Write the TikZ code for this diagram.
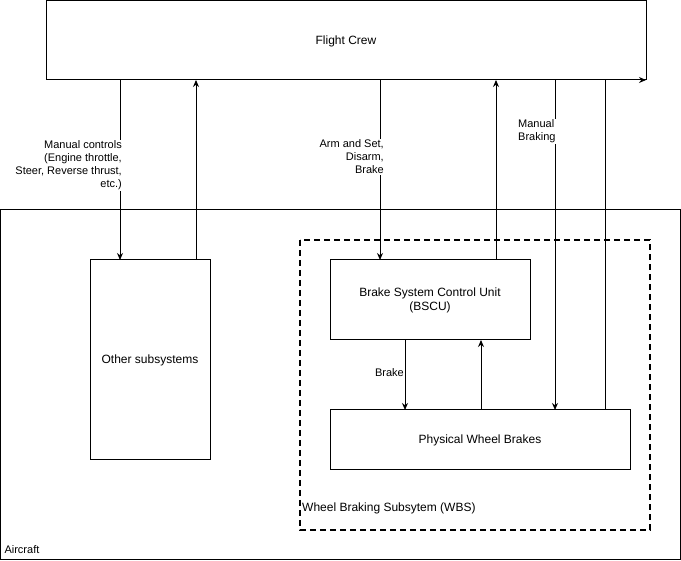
\documentclass[tikz,border=0pt]{standalone}
\usepackage{fontspec}
\setmainfont{Liberation Sans}
\usetikzlibrary{arrows.meta}
\begin{document}
\begin{tikzpicture}[x=1pt,y=-1pt,
  box/.style={draw,line width=1pt,inner sep=0pt},
  lbl/.style={font=\fontsize{12}{14}\selectfont,align=center},
  elbl/.style={font=\fontsize{11}{13}\selectfont,fill=white,inner sep=1pt},
  conn/.style={line width=1pt,-{Stealth[length=7pt,width=6pt]}},
  plain/.style={line width=1pt}]
\useasboundingbox (0,0) rectangle (681,561);
% boxes
\draw[box] (46,1) rectangle (646,80);
\node[lbl] (crew) at (346,41) {Flight Crew};
\draw[box] (0.5,210) rectangle (680,560);
\node[lbl,anchor=west] (aircraft) at (1,550) {\fontsize{11}{13}\selectfont Aircraft};
\draw[box] (90,260) rectangle (210,460);
\node[lbl] (other) at (150,360) {Other subsystems};
\draw[box,dashed,dash pattern=on 6pt off 4pt,line width=1.5pt] (300,240) rectangle (650,530);
\node[anchor=west,font=\fontsize{12}{14}\selectfont,inner sep=1pt] (wbs) at (301,508) {Wheel Braking Subsytem (WBS)};
\draw[box] (330,260) rectangle (530,340);
\node[lbl] (bscu) at (430,300) {Brake System Control Unit\\(BSCU)};
\draw[box] (330,410) rectangle (630,470);
\node[lbl] (pwb) at (480,440) {Physical Wheel Brakes};
% connector endpoints
\coordinate (c1a) at (120,80); \coordinate (c1b) at (120,260);
\coordinate (c2a) at (196,260); \coordinate (c2b) at (196,80);
\coordinate (c3a) at (380,80); \coordinate (c3b) at (380,260);
\coordinate (c4a) at (496,260); \coordinate (c4b) at (496,80);
\coordinate (c5a) at (555,80); \coordinate (c5b) at (555,410);
\coordinate (c6a) at (405,340); \coordinate (c6b) at (405,410);
\coordinate (c7a) at (481,410); \coordinate (c7b) at (481,340);
\coordinate (c8a) at (605,410); \coordinate (c8m) at (605,80); \coordinate (c8b) at (646,80);
% connectors
\draw[conn] (c1a) -- (c1b);
\draw[conn] (c2a) -- (c2b);
\draw[conn] (c3a) -- (c3b);
\draw[conn] (c4a) -- (c4b);
\draw[conn] (c5a) -- (c5b);
\draw[conn] (c6a) -- (c6b);
\draw[conn] (c7a) -- (c7b);
\draw[conn] (c8a) -- (c8m) -- (c8b);
% edge labels
\node[elbl,anchor=east,align=right] (l1) at (123,165.5) {Manual controls\\(Engine throttle,\\Steer, Reverse thrust,\\etc.)};
\node[elbl,anchor=east,align=right] (l3) at (385,157) {Arm and Set,\\Disarm,\\Brake};
\node[elbl,anchor=west,align=left] (l5) at (517,131.5) {Manual\\Braking};
\node[elbl,anchor=east] (l6) at (405,373) {Brake};
\end{tikzpicture}
\end{document}
